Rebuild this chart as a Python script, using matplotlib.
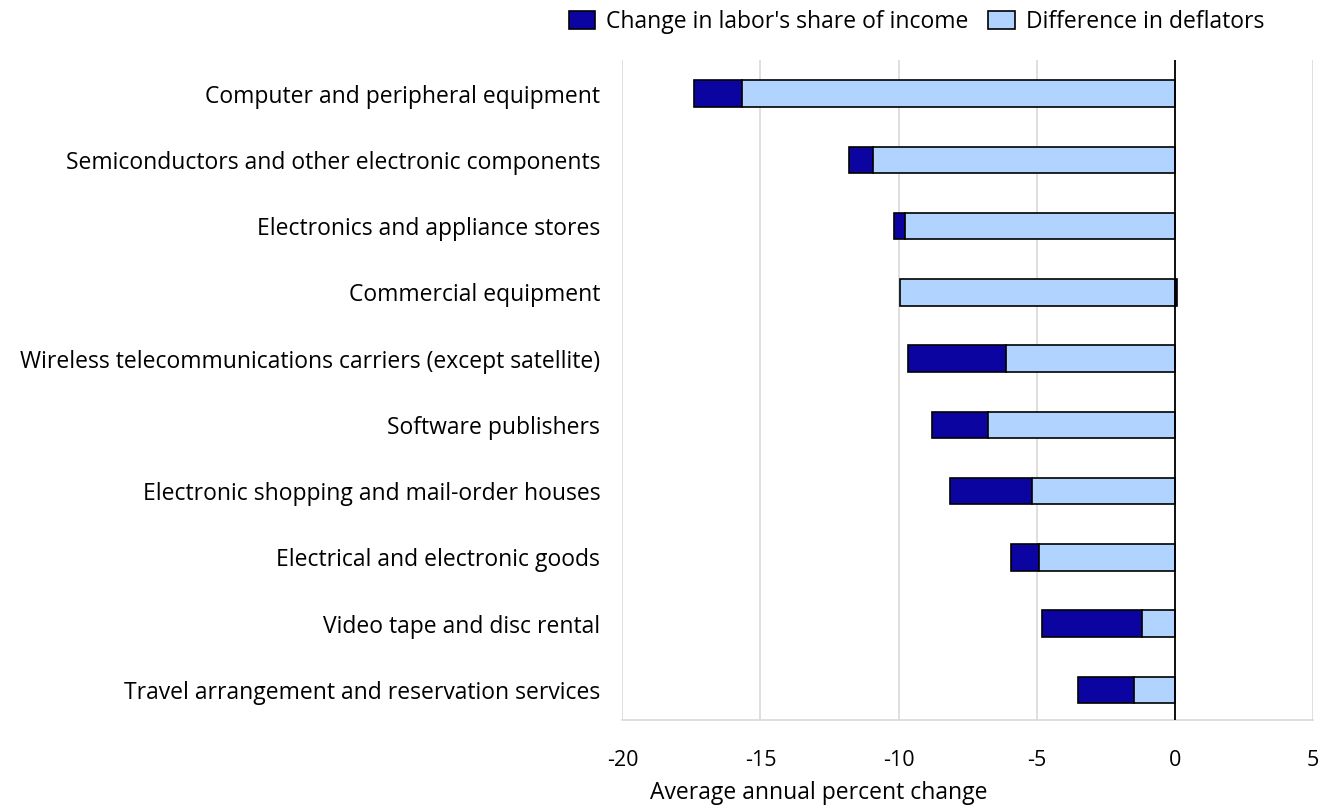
import numpy as np
import matplotlib
matplotlib.use("Agg")
import matplotlib.pyplot as plt

# industries, top to bottom
industries = [
    "Computer and peripheral equipment",
    "Semiconductors and other electronic components",
    "Electronics and appliance stores",
    "Commercial equipment",
    "Wireless telecommunications carriers (except satellite)",
    "Software publishers",
    "Electronic shopping and mail-order houses",
    "Electrical and electronic goods",
    "Video tape and disc rental",
    "Travel arrangement and reservation services",
]
deflators = np.array([-15.67, -10.92, -9.76, -9.94, -6.12, -6.76, -5.18, -4.92, -1.20, -1.49])
labor = np.array([-1.74, -0.87, -0.39, 0.10, -3.53, -2.03, -2.97, -1.02, -3.61, -2.02])
xticks = [-20, -15, -10, -5, 0, 5]

plt.rcParams['font.family'] = ['Open Sans', 'DejaVu Sans']

fig = plt.figure(figsize=(13.3, 8.05), dpi=100)
ax = fig.add_axes([0.468, 0.106, 0.519, 0.819])

y = np.arange(len(industries))
dark = "#0c04a0"
light = "#b0d4ff"

# labor share stacks beyond the deflator bar when negative, starts at zero when positive
left = np.where(labor < 0, deflators, 0)
ax.barh(y, labor, left=left, height=0.4, color=dark, edgecolor="black", linewidth=1.2,
        label="Change in labor's share of income", zorder=3)
ax.barh(y, deflators, height=0.4, color=light, edgecolor="black", linewidth=1.2,
        label="Difference in deflators", zorder=3)

ax.set_xlim(-20, 5)
ax.set_ylim(9.45, -0.5)
ax.set_xticks(xticks)
ax.set_xticklabels([str(t) for t in xticks], fontsize=15.5)
ax.set_yticks(y)
ax.set_yticklabels(industries, fontsize=16.5)
ax.tick_params(axis="both", length=0)
ax.tick_params(axis="x", pad=22)
ax.tick_params(axis="y", pad=16)

ax.grid(axis="x", color="#d9d9d9", linewidth=1.2, zorder=0)
ax.axvline(0, color="black", linewidth=1.3, zorder=4)
for s in ["top", "right", "left"]:
    ax.spines[s].set_visible(False)
ax.spines["bottom"].set_color("#d9d9d9")
ax.spines["bottom"].set_linewidth(1.2)

ax.set_xlabel("Average annual percent change", fontsize=16.5)
ax.xaxis.set_label_coords(0.284, -0.093)

ax.legend(loc="center right", bbox_to_anchor=(0.93, 1.058), ncol=2, frameon=False,
          fontsize=16.5, handlelength=1.15, handleheight=0.85, columnspacing=0.85,
          handletextpad=0.5, borderaxespad=0, borderpad=0)

fig.savefig("out.png", dpi=100)
